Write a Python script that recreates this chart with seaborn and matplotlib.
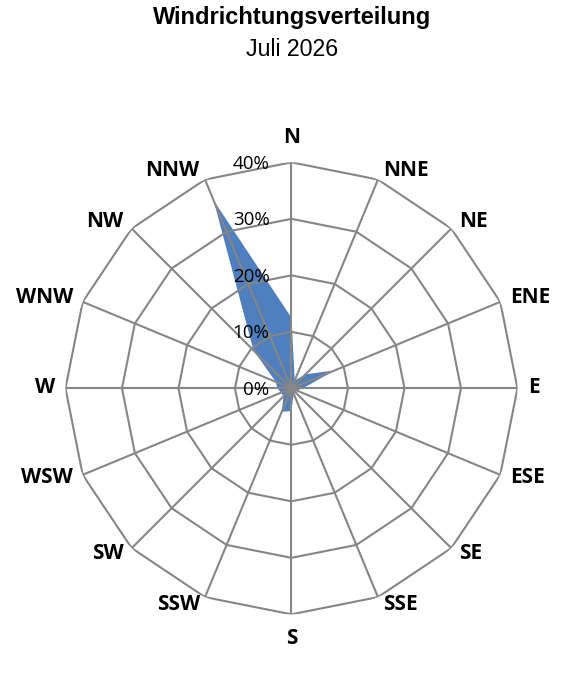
import numpy as np
import pandas as pd
import matplotlib
matplotlib.use("Agg")
import matplotlib.pyplot as plt
import seaborn as sns

# Windrichtungen und Anteile (%)
directions = ['N', 'NNE', 'NE', 'ENE', 'E', 'ESE', 'SE', 'SSE',
              'S', 'SSW', 'SW', 'WSW', 'W', 'WNW', 'NW', 'NNW']
shares = [12.5, 1.5, 3.5, 8.3, 2, 1, 1, 1, 4, 4.5, 2, 2, 2.5, 3, 9.5, 36]
ring_ticks = [0, 10, 20, 30, 40]
ring_labels = ['0%', '10%', '20%', '30%', '40%']

sns.set_theme(style='white')
plt.rcParams['font.family'] = ['Liberation Sans', 'DejaVu Sans']
plt.rcParams['text.color'] = 'black'

df = pd.DataFrame({'Richtung': directions, 'Anteil': shares})
df['theta'] = np.deg2rad(np.arange(len(df)) * 22.5)

fig = plt.figure(figsize=(5.64, 6.81), dpi=100)
ax = fig.add_axes([0.1161, 0.0979, 0.8014, 0.6637], projection='polar')
ax.set_theta_zero_location('N')
ax.set_theta_direction(-1)
ax.set_ylim(0, 40)
ax.grid(False)
ax.spines['polar'].set_visible(False)
ax.set_xticks([])
ax.set_yticks([])

grid_col = '#868686'
theta_closed = np.append(df['theta'].values, df['theta'].values[0])

# Datenfläche
vals_closed = np.append(df['Anteil'].values, df['Anteil'].values[0])
ax.fill(theta_closed, vals_closed, color='#4F7FBE', zorder=2, linewidth=0)

# Polygonales Gitter
for r in ring_ticks[1:]:
    ax.plot(theta_closed, [r] * len(theta_closed), color=grid_col, lw=1.5, zorder=3)
for t in df['theta']:
    ax.plot([t, t], [0, 40], color=grid_col, lw=1.5, zorder=3)

# Richtungsbeschriftungen (außen, wie bei Excel-Netzdiagrammen)
lab_font = ['Open Sans', 'DejaVu Sans']
for t, lab in zip(df['theta'], df['Richtung']):
    s, c = np.sin(t), np.cos(t)
    if abs(s) < 1e-6:
        ha = 'center'
        dx, dy = 0, 24.5 * c
    else:
        ha = 'left' if s > 0 else 'right'
        dx = np.sign(s) * (2 + 8.5 * abs(s))
        dy = 8.5 * c + 0.7
    ax.annotate(lab, xy=(t, 40), xytext=(dx, dy), textcoords='offset pixels',
                ha=ha, va='center', fontsize=15, fontweight='bold',
                family=lab_font)

# Skalenbeschriftung
for r, lab in zip(ring_ticks, ring_labels):
    ax.annotate(lab, xy=(0, r), xytext=(-22, -1.5), textcoords='offset pixels',
                ha='right', va='center', fontsize=13.5, family=lab_font, zorder=4)

fig.text(0.518, 0.974, 'Windrichtungsverteilung', ha='center', va='center',
         fontsize=17, fontweight='bold')
fig.text(0.518, 0.928, 'Juli 2026', ha='center', va='center', fontsize=16.7)

fig.savefig('out.png', dpi=100, facecolor='white')
